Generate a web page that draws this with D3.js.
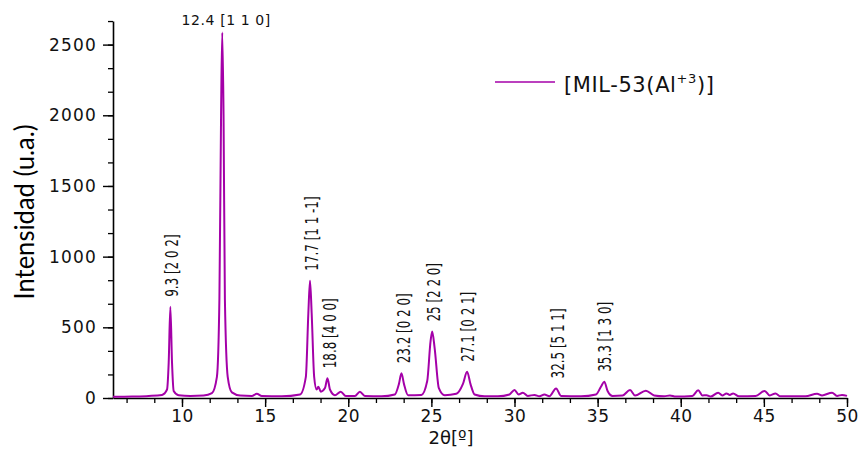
<!DOCTYPE html>
<html>
<head>
<meta charset="utf-8">
<script src="https://cdn.jsdelivr.net/npm/d3@7"></script>
<style>
  body { margin: 0; background: #fff; }
  svg { display: block; }
  .tick text { font-family: "DejaVu Sans", sans-serif; }
</style>
</head>
<body>
<div id="my_dataviz"></div>
<script>
// diffractogram: 2theta (deg) and intensity (u.a.)
const twoTheta = [
  5.85, 7.0, 8.0, 8.8, 9.1, 9.2, 9.3, 9.4, 9.5, 9.8,
  10.5, 11.3, 11.8, 12.1, 12.25, 12.35, 12.42, 12.5, 12.58, 12.75,
  13.0, 13.5, 14.2, 14.5, 14.8, 16.0, 17.1, 17.45, 17.6, 17.7,
  17.8, 17.95, 18.1, 18.2, 18.35, 18.6, 18.75, 18.9, 19.2, 19.55,
  19.85, 20.4, 20.7, 21.0, 22.0, 22.8, 23.05, 23.2, 23.35, 23.6,
  24.4, 24.75, 24.95, 25.05, 25.2, 25.45, 25.8, 26.5, 26.9, 27.15,
  27.35, 27.6, 28.2, 29.0, 29.7, 30.0, 30.25, 30.5, 30.8, 31.2,
  31.5, 31.8, 32.1, 32.5, 32.8, 34.0, 34.9, 35.2, 35.4, 35.6,
  35.9, 36.5, 36.95, 37.25, 37.9, 38.4, 39.0, 39.35, 39.7, 40.7,
  41.05, 41.3, 41.55, 41.8, 42.25, 42.5, 42.75, 42.95, 43.15, 43.5,
  44.5, 45.05, 45.35, 45.7, 46.0, 47.5, 48.2, 48.5, 49.1, 49.4,
  49.7, 50.0
];
const intensity = [
  8, 10, 14, 22, 60, 250, 645, 250, 50, 20,
  15, 18, 35, 150, 700, 2000, 2585, 2000, 700, 150,
  40, 18, 15, 30, 14, 12, 25, 150, 600, 830,
  600, 150, 60, 80, 45, 70, 140, 60, 20, 45,
  15, 15, 45, 15, 12, 25, 100, 175, 100, 20,
  22, 120, 400, 470, 350, 70, 20, 30, 100, 186,
  100, 25, 12, 12, 25, 57, 25, 38, 15, 22,
  12, 25, 12, 68, 15, 12, 25, 80, 115, 50,
  15, 18, 57, 18, 52, 18, 12, 18, 10, 15,
  55, 18, 20, 10, 38, 18, 32, 22, 32, 12,
  15, 50, 18, 32, 12, 12, 30, 18, 38, 15,
  22, 15
];

// peak annotations
const peakPos = [9.3, 17.7, 18.8, 23.2, 25, 27.1, 32.5, 35.3];
const peakTop = [645, 830, 140, 175, 470, 186, 68, 115];
const peakText = ["9.3 [2 0 2]", "17.7 [1 1 -1]", "18.8 [4 0 0]", "23.2 [0 2 0]",
                  "25 [2 2 0]", "27.1 [0 2 1]", "32.5 [5 1 1]", "35.3 [1 3 0]"];
const mainPeak = { pos: 12.42, top: 2585, text: "12.4 [1 1 0]" };

const xTicks = [10, 15, 20, 25, 30, 35, 40, 45, 50];
const yTicks = [0, 500, 1000, 1500, 2000, 2500];

const margin = { top: 21, right: 12, bottom: 51, left: 113 },
    width = 859 - margin.left - margin.right,
    height = 449 - margin.top - margin.bottom;

const svg = d3.select("#my_dataviz")
    .append("svg")
    .attr("width", 859)
    .attr("height", 449)
    .append("g")
    .attr("transform", `translate(${margin.left}, ${margin.top})`);

const x = d3.scaleLinear().domain([5.85, 50]).range([0, width]);
const y = d3.scaleLinear().domain([0, 2667]).range([height, 0]);

// minor ticks, 3 per major step
const xMinor = d3.range(5, 50.01, 5 / 3).filter(v => v >= 5.85);
const yMinor = d3.range(0, 2667, 500 / 3);

svg.append("g")
    .attr("transform", `translate(0, ${height})`)
    .call(d3.axisBottom(x).tickValues(xMinor).tickSize(5).tickFormat(""))
    .call(g => g.select(".domain").remove())
    .selectAll("line").attr("stroke-width", 1.3);

svg.append("g")
    .call(d3.axisLeft(y).tickValues(yMinor).tickSize(5).tickFormat(""))
    .call(g => g.select(".domain").remove())
    .selectAll("line").attr("stroke-width", 1.3);

const xAxis = svg.append("g")
    .attr("transform", `translate(0, ${height})`)
    .call(d3.axisBottom(x).tickValues(xTicks).tickSize(9).tickSizeOuter(0).tickPadding(3));
xAxis.select(".domain").attr("stroke-width", 1.6);
xAxis.selectAll(".tick line").attr("stroke-width", 1.4);
xAxis.selectAll(".tick text").attr("font-size", 17).attr("fill", "#111")
    .attr("letter-spacing", 0.5);

const yAxis = svg.append("g")
    .call(d3.axisLeft(y).tickValues(yTicks).tickSize(10).tickSizeOuter(0).tickPadding(6)
        .tickFormat(d3.format("d")));
yAxis.select(".domain").attr("stroke-width", 1.6);
yAxis.selectAll(".tick line").attr("stroke-width", 1.4);
yAxis.selectAll(".tick text").attr("font-size", 17).attr("fill", "#111")
    .attr("letter-spacing", 1.2);

// the pattern
const pts = twoTheta.map((t, i) => [t, intensity[i]]);
svg.append("path")
    .datum(pts)
    .attr("fill", "none")
    .attr("stroke", "#a400a8")
    .attr("stroke-width", 2)
    .attr("stroke-linejoin", "round")
    .attr("d", d3.line()
        .x(d => x(d[0]))
        .y(d => y(d[1]))
        .curve(d3.curveMonotoneX));

// rotated peak labels, narrow glyphs
svg.selectAll(".peaklabel")
    .data(peakPos)
    .enter()
    .append("text")
    .attr("class", "peaklabel")
    .attr("transform", (d, i) => `translate(${x(d) + 2}, ${y(peakTop[i]) - 10}) rotate(-90) scale(0.78, 1)`)
    .attr("dy", "0.36em")
    .attr("font-family", "'DejaVu Sans', sans-serif")
    .attr("font-stretch", "condensed")
    .attr("font-size", 17)
    .attr("fill", "#111")
    .text((d, i) => peakText[i]);

svg.append("text")
    .attr("x", x(mainPeak.pos) + 4)
    .attr("y", y(mainPeak.top) - 8)
    .attr("text-anchor", "middle")
    .attr("font-family", "'DejaVu Sans', sans-serif")
    .attr("font-size", 14)
    .attr("letter-spacing", 0.6)
    .attr("fill", "#111")
    .text(mainPeak.text);

// axis titles
svg.append("text")
    .attr("text-anchor", "middle")
    .attr("transform", `translate(${25 - margin.left}, ${212 - margin.top}) rotate(-90)`)
    .attr("dy", "0.35em")
    .attr("font-family", "Lato, 'DejaVu Sans', sans-serif")
    .attr("font-weight", 400)
    .attr("font-size", 27)
    .attr("textLength", 175)
    .attr("lengthAdjust", "spacingAndGlyphs")
    .attr("fill", "#000")
    .text("Intensidad (u.a.)");

svg.append("text")
    .attr("text-anchor", "middle")
    .attr("x", 451 - margin.left)
    .attr("y", 444 - margin.top)
    .attr("font-family", "'DejaVu Sans', sans-serif")
    .attr("font-size", 18)
    .attr("fill", "#111")
    .text("2θ[º]");

// legend
svg.append("line")
    .attr("x1", 495 - margin.left).attr("x2", 555 - margin.left)
    .attr("y1", 82 - margin.top).attr("y2", 82 - margin.top)
    .attr("stroke", "#a400a8")
    .attr("stroke-width", 1.6);

const leg = svg.append("text")
    .attr("x", 564 - margin.left)
    .attr("y", 92 - margin.top)
    .attr("font-family", "'DejaVu Sans', sans-serif")
    .attr("font-size", 21)
    .attr("letter-spacing", 0.6)
    .attr("fill", "#111");
leg.append("tspan").text("[MIL-53(Al");
leg.append("tspan").attr("font-size", 13).attr("dy", -9).text("+3");
leg.append("tspan").attr("dy", 9).text(")]");
</script>
</body>
</html>
